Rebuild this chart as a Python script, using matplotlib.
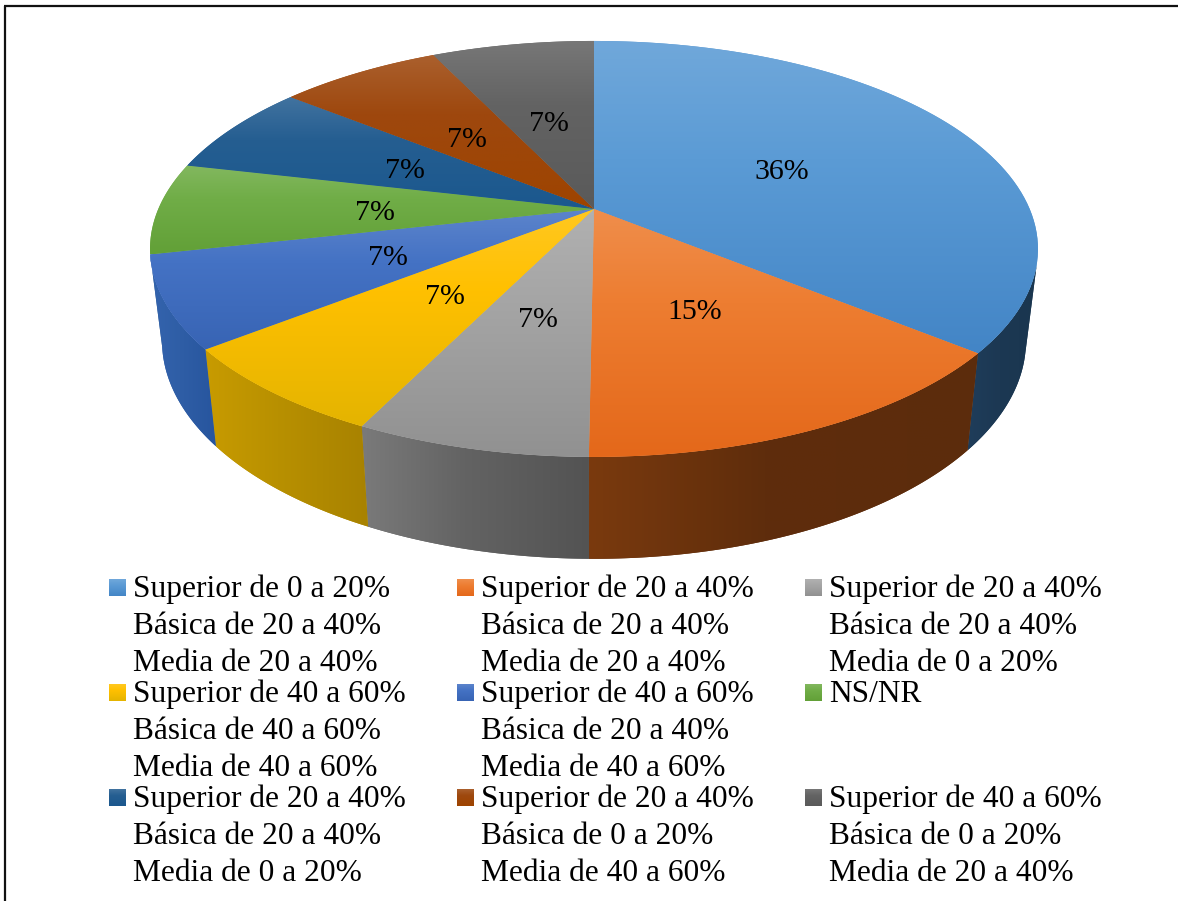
#!usr/bin/env python
import matplotlib
matplotlib.use("Agg")
import matplotlib.pyplot as plt
from matplotlib.colors import to_rgb
from matplotlib.lines import Line2D
from matplotlib.patches import Polygon
import numpy as np

# Slice sizes as measured on the picture, and the labels it prints
values = [35.8, 14.2, 7.1, 7.1, 7.1, 7.1, 7.1, 7.1, 7.1]
pct_labels = ["36%", "15%", "7%", "7%", "7%", "7%", "7%", "7%", "7%"]
legend_labels = [
    "Superior de 0 a 20%\nBásica de 20 a 40%\nMedia de 20 a 40%",
    "Superior de 20 a 40%\nBásica de 20 a 40%\nMedia de 20 a 40%",
    "Superior de 20 a 40%\nBásica de 20 a 40%\nMedia de 0 a 20%",
    "Superior de 40 a 60%\nBásica de 40 a 60%\nMedia de 40 a 60%",
    "Superior de 40 a 60%\nBásica de 20 a 40%\nMedia de 40 a 60%",
    "NS/NR",
    "Superior de 20 a 40%\nBásica de 20 a 40%\nMedia de 0 a 20%",
    "Superior de 20 a 40%\nBásica de 0 a 20%\nMedia de 40 a 60%",
    "Superior de 40 a 60%\nBásica de 0 a 20%\nMedia de 20 a 40%",
]

colours = ["#5B9BD5", "#ED7D31", "#A5A5A5", "#FFC000", "#4472C4",
           "#70AD47", "#255E91", "#9E480E", "#636363"]
# Darker end of the top face gradient
bottom_colours = ["#4385C6", "#E4681A", "#919191", "#E4B400", "#3864B4",
                  "#62A037", "#1B588E", "#9E4400", "#5A5A5A"]
# Side wall shading, left / middle / right
wall_colours = [("#1f3d5a", "#1c3853", "#1a364f"),
                ("#7a3a0e", "#5f2d0c", "#5c2c0c"),
                ("#7a7a7a", "#636363", "#535353"),
                ("#c89b00", "#b89000", "#a88200"),
                ("#3464ae", "#2f5ea6", "#27559e"),
                ("#43682b", "#43682b", "#43682b"),
                ("#163857", "#163857", "#163857"),
                ("#5f2b08", "#5f2b08", "#5f2b08"),
                ("#3b3b3b", "#3b3b3b", "#3b3b3b")]

# Pie projection in pixels
APEX_X, APEX_Y = 594, 209
A, B, P = 435.7, 200.3, -0.192
# Part of the rim where the wall can be seen
WALL_START, WALL_END = np.radians(105), np.radians(257.5)


def project(theta, r=1.0):
    """ Clockwise angle from the top (radians) to the pixel on the top face. """
    u = r * np.sin(theta)
    v = -r * np.cos(theta)
    w = 1 + P * v
    return APEX_X + A * u / w, APEX_Y + B * v / w


def lower_rim(x, y):
    """ Matching pixel on the bottom rim of the pie. """
    return APEX_X + 0.973 * (x - APEX_X), 299 + 1.048 * (y - APEX_Y)


def top_gradient(colour, bottom):
    base = np.array(to_rgb(colour))
    stops = [0.0, 0.38, 1.0]
    rgb = [base + (1 - base) * 0.13, base, np.array(to_rgb(bottom))]
    t = np.linspace(0, 1, 256)
    return np.stack([np.interp(t, stops, [c[i] for c in rgb]) for i in range(3)], axis=-1)[:, None, :]


def wall_gradient(shades):
    rgb = [to_rgb(s) for s in shades]
    t = np.linspace(0, 1, 256)
    return np.stack([np.interp(t, [0.0, 0.45, 1.0], [c[i] for c in rgb]) for i in range(3)], axis=-1)[None, :, :]


def fill_gradient(ax, pts, img, zorder):
    """ Flat polygon underneath so there are no seams, gradient clipped on top. """
    ax.add_patch(Polygon(pts, closed=True, facecolor=img[img.shape[0] // 2, img.shape[1] // 2],
                         edgecolor="none", zorder=zorder))
    clip = Polygon(pts, closed=True, transform=ax.transData)
    im = ax.imshow(img, extent=(pts[:, 0].min(), pts[:, 0].max(), pts[:, 1].max(), pts[:, 1].min()),
                   aspect="auto", interpolation="bilinear", zorder=zorder + 0.1)
    im.set_clip_path(clip)


plt.rcParams['font.family'] = ['Liberation Serif', 'DejaVu Serif']
fig = plt.figure(figsize=(11.78, 9.01), dpi=100)
ax = fig.add_axes([0, 0, 1, 1])
ax.set_xlim(0, 1178)
ax.set_ylim(901, 0)
ax.set_autoscale_on(False)
ax.axis("off")

# Frame, only left and top show in the picture
ax.add_line(Line2D([5, 5], [901, 5.8], color="#111111", lw=1.6, solid_capstyle="butt"))
ax.add_line(Line2D([4, 1178], [5.8, 5.8], color="#111111", lw=1.6, solid_capstyle="butt"))

edges = np.cumsum([0] + values) / sum(values) * 2 * np.pi

# Walls first, the top faces cover whatever lies behind them
for i in range(len(values)):
    start, end = max(edges[i], WALL_START), min(edges[i + 1], WALL_END)
    if start >= end:
        continue
    theta = np.linspace(start, end, 80)
    x, y = project(theta)
    xb, yb = lower_rim(x, y)
    pts = np.column_stack([np.r_[x, xb[::-1]], np.r_[y, yb[::-1]]])
    fill_gradient(ax, pts, wall_gradient(wall_colours[i]), 2)

for i in range(len(values)):
    theta = np.linspace(edges[i], edges[i + 1], 80)
    x, y = project(theta)
    pts = np.column_stack([np.r_[APEX_X, x], np.r_[APEX_Y, y]])
    fill_gradient(ax, pts, top_gradient(colours[i], bottom_colours[i]), 3)

# Percent labels sit half way along the middle of each slice
for i, label in enumerate(pct_labels):
    lx, ly = project((edges[i] + edges[i + 1]) / 2, 0.5)
    ax.text(lx - 1, ly + 4, label, fontsize=21.5, color="black", ha="center", va="center", zorder=5)

# Legend, 3 x 3 grid
col_x = [109, 457, 805]
row_y = [596, 701, 806]
line_gap = 37.2
for i, label in enumerate(legend_labels):
    x0 = col_x[i % 3]
    base = row_y[i // 3]
    ax.imshow(top_gradient(colours[i], bottom_colours[i]), extent=(x0, x0 + 17, base, base - 17),
              aspect="auto", interpolation="bilinear", zorder=4)
    for j, line in enumerate(label.split("\n")):
        ax.text(x0 + 24, base + 1 + j * line_gap, line, fontsize=22.6, color="black",
                ha="left", va="baseline", zorder=5)

fig.savefig("out.png", dpi=100, facecolor="white")
